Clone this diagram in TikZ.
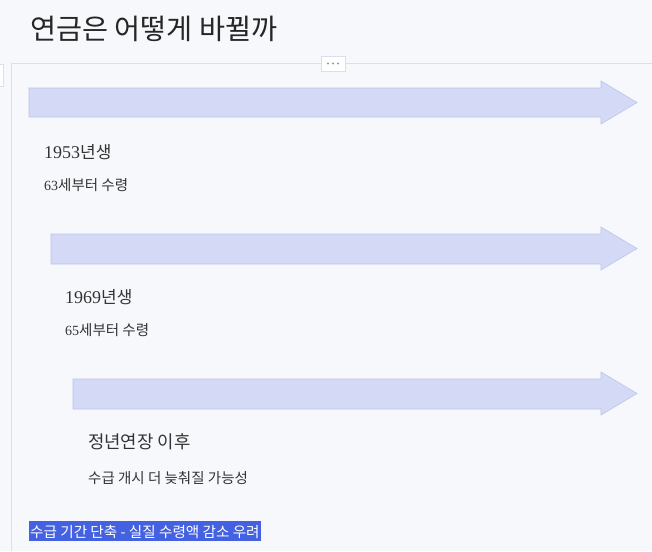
\documentclass[tikz,border=0pt]{standalone}
\usepackage{fontspec}
\usetikzlibrary{calc}
\setmainfont{Noto Sans CJK KR}
\newfontfamily\numfont{Liberation Serif}
\definecolor{bgc}{HTML}{F7F8FC}
\definecolor{arrfill}{HTML}{D4D9F6}
\definecolor{arrline}{HTML}{BCC4EE}
\definecolor{framec}{HTML}{DCDEE8}
\definecolor{txt}{HTML}{333333}
\definecolor{hl}{HTML}{4361E0}
\tikzset{
  bigarrow/.style={fill=arrfill, draw=arrline, line width=0.6pt},
  lbl/.style={anchor=base west, inner sep=0pt, text=txt},
  framel/.style={draw=framec, line width=0.8pt}
}
\begin{document}
\begin{tikzpicture}[x=1pt,y=-1pt]
\fill[bgc] (0,0) rectangle (652,551);
\useasboundingbox (0,0) rectangle (652,551);
% title
\node[lbl, font=\fontsize{28.3}{32}\selectfont, text=black!85] (title) at (30,40) {연금은 어떻게 바뀔까};
% frame
\draw[framel] (11,63) -- (652,63);
\draw[framel] (11,63) -- (11,551);
\draw[framel, fill=white] (-2,64) rectangle (3,86);
\node[draw=framec, fill=white, minimum width=24pt, minimum height=15pt, inner sep=0pt] (dots) at (333,63.5) {};
\foreach \dx in {-5,0,5} \fill[gray!80] ($(dots.center)+(\dx,0)$) circle (1.2pt);
% arrows
\draw[bigarrow] (29,88) -- (601,88) -- (601,81) -- (637,102.5) -- (601,124) -- (601,117) -- (29,117) -- cycle;
\draw[bigarrow] (51,234) -- (601,234) -- (601,227) -- (637,248.5) -- (601,270) -- (601,264) -- (51,264) -- cycle;
\draw[bigarrow] (73,379) -- (601,379) -- (601,372) -- (637,393.5) -- (601,415) -- (601,409) -- (73,409) -- cycle;
% labels
\node[lbl, font=\fontsize{17}{20}\selectfont] (y1953) at (44,158) {{\numfont\fontsize{18}{20}\selectfont 1953}년생};
\node[lbl, font=\fontsize{14.5}{16}\selectfont] (a63) at (44,190) {{\numfont\fontsize{14}{16}\selectfont 63}세부터 수령};
\node[lbl, font=\fontsize{17}{20}\selectfont] (y1969) at (65,303) {{\numfont\fontsize{18}{20}\selectfont 1969}년생};
\node[lbl, font=\fontsize{14.5}{16}\selectfont] (a65) at (65,335) {{\numfont\fontsize{14}{16}\selectfont 65}세부터 수령};
\node[lbl, font=\fontsize{17.8}{20}\selectfont] (ext) at (88,448) {정년연장 이후};
\node[lbl, font=\fontsize{14.5}{16}\selectfont] (later) at (88,483) {수급 개시 더 늦춰질 가능성};
% highlight
\fill[hl] (29,521) rectangle (261,541);
\node[lbl, text=white, font=\fontsize{14.6}{16}\selectfont] (warn) at (30,537) {수급 기간 단축 - 실질 수령액 감소 우려};
\end{tikzpicture}
\end{document}
